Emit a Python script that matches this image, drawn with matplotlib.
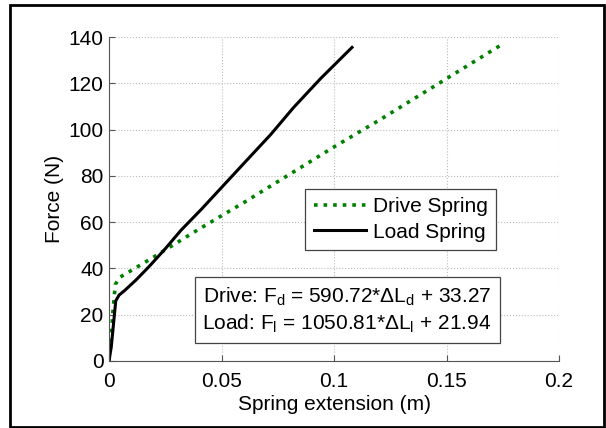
import matplotlib
matplotlib.use("Agg")
from matplotlib import pyplot as plt
from matplotlib.patches import Rectangle

plt.rcParams["font.family"] = ["Liberation Sans", "DejaVu Sans"]
plt.rcParams["mathtext.fontset"] = "custom"
plt.rcParams["mathtext.rm"] = "Liberation Sans"
plt.rcParams["mathtext.it"] = "Liberation Sans"

# measured force vs. extension for both springs
drive_x = [0, 0.0008, 0.0018, 0.0028, 0.0045, 0.008, 0.02, 0.04, 0.06, 0.08,
           0.10, 0.12, 0.14, 0.16, 0.175]
drive_f = [0, 8, 22, 33, 36, 38, 45, 57, 68.5, 80.5, 92.5, 104, 116, 128, 137]

load_x = [0, 0.001, 0.002, 0.003, 0.0045, 0.007, 0.012, 0.018, 0.025, 0.032,
          0.041, 0.051, 0.061, 0.072, 0.082, 0.094, 0.108]
load_f = [0, 6, 16, 26, 28.5, 30.5, 35, 41, 48.5, 56.5, 65.5, 76, 86.5, 98,
          109.5, 122, 135.5]

x_ticks = [0, 0.05, 0.1, 0.15, 0.2]
x_tick_labels = ["0", "0.05", "0.1", "0.15", "0.2"]
y_ticks = [0, 20, 40, 60, 80, 100, 120, 140]

FS = 15

fig = plt.figure(figsize=(6.06, 4.28), dpi=100)
ax = fig.add_axes([109 / 606, 1 - 361 / 428, 450 / 606, 324 / 428])

ax.plot(drive_x, drive_f, linestyle=":", color="#008000", linewidth=2.6,
        label="Drive Spring")
ax.plot(load_x, load_f, linestyle="-", color="black", linewidth=2.2,
        label="Load Spring")

ax.set_xlim(0, 0.2)
ax.set_ylim(0, 140)
ax.set_xticks(x_ticks)
ax.set_xticklabels(x_tick_labels)
ax.set_yticks(y_ticks)
ax.tick_params(direction="in", labelsize=FS, color="#555555", length=4)
ax.tick_params(axis="x", pad=8)
ax.tick_params(axis="y", pad=4)
ax.grid(True, linestyle=":", color="#bbbbbb", linewidth=0.8)
for side in ("top", "right"):
    ax.spines[side].set_visible(False)
for side in ("left", "bottom"):
    ax.spines[side].set_color("#555555")

ax.set_xlabel("Spring extension (m)", fontsize=FS, labelpad=3)
ax.set_ylabel("Force (N)", fontsize=FS, labelpad=3)

leg = ax.legend(loc="lower left", bbox_to_anchor=(0.436, 0.343), fontsize=FS,
                fancybox=False, edgecolor="#444444", framealpha=1,
                handlelength=2.5, borderpad=0.4, labelspacing=0.3,
                handletextpad=0.35, borderaxespad=0)
leg.get_frame().set_linewidth(0.9)

eq_text = ("Drive: F$_\\mathrm{d}$ = 590.72*ΔL$_\\mathrm{d}$ + 33.27\n"
           "Load: F$_\\mathrm{l}$ = 1050.81*ΔL$_\\mathrm{l}$ + 21.94")
ax.text(0.529, 0.157, eq_text, transform=ax.transAxes, ha="center",
        va="center", fontsize=FS, linespacing=1.3,
        bbox=dict(boxstyle="square,pad=0.38", facecolor="white",
                  edgecolor="#444444", linewidth=0.9))

# frame around the whole figure
fig.patches.append(Rectangle((10 / 606, 1 / 428), 594 / 606, 422 / 428,
                             transform=fig.transFigure, fill=False,
                             edgecolor="black", linewidth=2))

fig.savefig("out.png", dpi=100)
